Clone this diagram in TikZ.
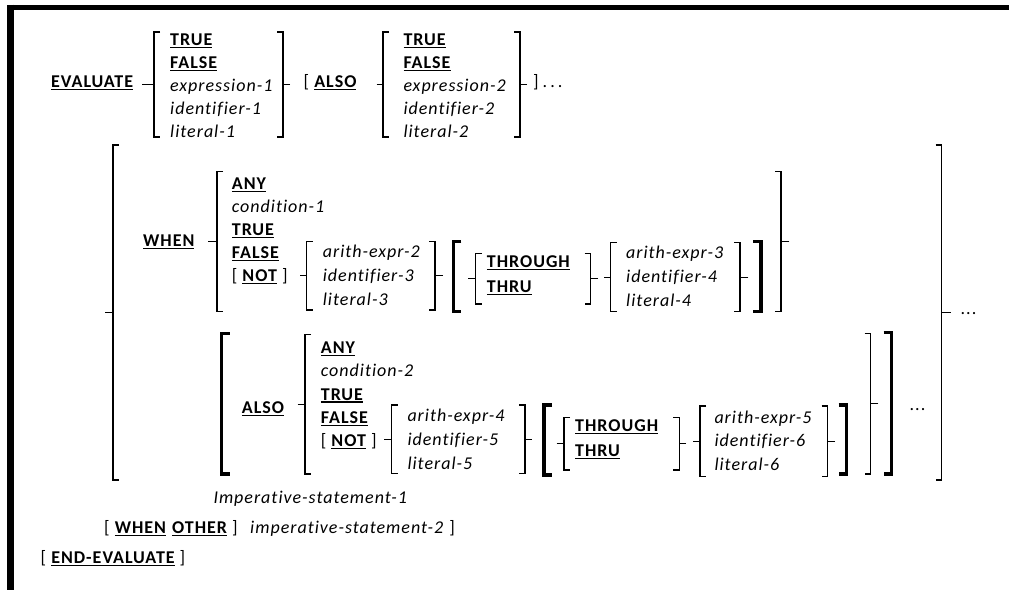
\documentclass[tikz,border=0pt]{standalone}
\usepackage{fontspec}
\setmainfont{Carlito}[LetterSpace=5.5, Ligatures={NoCommon}]

% keyword: bold and underlined, variable: italic
\newcommand\kw[1]{\setbox0=\hbox{\bfseries #1}\rlap{\rule[-2.6pt]{\wd0}{1.3pt}}\box0\relax}
\newcommand\vname[1]{\textit{#1}}
\newcommand\repdots{.\kern1pt.\kern1pt.}
% thin brackets with a tick: x, top, bottom, end of tick
\newcommand\lgrp[4]{\draw[brak] (#1+6,#2) -- (#1,#2) -- (#1,#3) -- (#1+6,#3);
  \draw[brak] (#4,{(#2+#3)/2}) -- (#1,{(#2+#3)/2});}
\newcommand\rgrp[4]{\draw[brak] (#1-6,#2) -- (#1,#2) -- (#1,#3) -- (#1-6,#3);
  \draw[brak] (#4,{(#2+#3)/2}) -- (#1,{(#2+#3)/2});}
% thick brackets of an optional part: x, top, bottom
\newcommand\lopt[3]{\draw[optbrak] (#1+8,#2) -- (#1,#2) -- (#1,#3) -- (#1+8,#3);}
\newcommand\ropt[3]{\draw[optbrak] (#1-8,#2) -- (#1,#2) -- (#1,#3) -- (#1-8,#3);}

\begin{document}
\begin{tikzpicture}[x=1pt, y=-1pt, font=\fontsize{18}{22}\selectfont,
  txt/.style={anchor=base west, inner sep=0pt},
  brak/.style={line width=1.1pt},
  optbrak/.style={line width=3.2pt}]
\useasboundingbox (0,0) rectangle (1009,590);
% frame
\draw[line width=7pt] (10.5,4.5) -- (10.5,590);
\draw[line width=5pt] (7,7.5) -- (1009,7.5);

% EVALUATE ... [ ALSO ... ] ...
\node[txt] (evaluate) at (51,87.7) {\kw{EVALUATE}};
\lgrp{154}{32}{137}{142}
\foreach \w [count=\i] in {\kw{TRUE},\kw{FALSE},\vname{expression-1},\vname{identifier-1},\vname{literal-1}}
  \node[txt] (subj\i) at (170,{45.7+22.85*(\i-1)}) {\w};
\rgrp{283}{32}{137}{290}
\node[txt] (also) at (303.5,87.7) {[ \kw{ALSO}};
\lgrp{383}{32}{137}{376.7}
\foreach \w [count=\i] in {\kw{TRUE},\kw{FALSE},\vname{expression-2},\vname{identifier-2},\vname{literal-2}}
  \node[txt] (osubj\i) at (403.3,{45.7+22.85*(\i-1)}) {\w};
\rgrp{520}{32}{137}{527}
\node[txt] (more) at (533,87.7) {]\kern4pt.\kern3pt.\kern3pt.};

% outer group of WHEN and ALSO phrases
\lgrp{113}{145}{480}{105}
\rgrp{941.7}{145}{480}{950.7}
\node[txt] (whenmore) at (960.5,314) {\repdots};

% WHEN phrase
\node[txt] (when) at (143,246.7) {\kw{WHEN}};
\lgrp{217}{171.7}{311.7}{208}
\foreach \w [count=\i] in {\kw{ANY},\vname{condition-1},\kw{TRUE},\kw{FALSE},{[ \kw{NOT} ]}}
  \node[txt] (wobj\i) at (231.7,{189.3+23.1*(\i-1)}) {\w};
\lgrp{306.7}{241.7}{310}{300}
\foreach \w [count=\i] in {\vname{arith-expr-2},\vname{identifier-3},\vname{literal-3}}
  \node[txt] (wfrom\i) at (322.7,{257.3+23.85*(\i-1)}) {\w};
\rgrp{435}{241.7}{310}{443}
\lopt{453.3}{241.7}{311.7}
\lgrp{475.7}{253.3}{304}{468}
\node[txt] (wthrough) at (486.7,267.3) {\kw{THROUGH}};
\node[txt] (wthru) at (486.7,292.3) {\kw{THRU}};
\rgrp{590.7}{253.3}{304}{598}
\lgrp{610.7}{242.7}{311.7}{604}
\foreach \w [count=\i] in {\vname{arith-expr-3},\vname{identifier-4},\vname{literal-4}}
  \node[txt] (wto\i) at (626,{258.3+23.85*(\i-1)}) {\w};
\rgrp{740}{242.7}{311.7}{748.3}
\ropt{761}{241.7}{311.7}
\rgrp{781}{171.7}{311.7}{789.3}

% ALSO phrase
\lopt{221.7}{333.3}{474}
\node[txt] (walso) at (241.7,413.3) {\kw{ALSO}};
\lgrp{305}{334.3}{474}{297.7}
\foreach \w [count=\i] in {\kw{ANY},\vname{condition-2},\kw{TRUE},\kw{FALSE},{[ \kw{NOT} ]}}
  \node[txt] (aobj\i) at (320.7,{353.3+23.35*(\i-1)}) {\w};
\lgrp{391.7}{405}{473.3}{384}
\foreach \w [count=\i] in {\vname{arith-expr-4},\vname{identifier-5},\vname{literal-5}}
  \node[txt] (afrom\i) at (407.3,{421.7+23.8*(\i-1)}) {\w};
\rgrp{525}{405}{473.3}{531.7}
\lopt{544}{405}{475}
\lgrp{564}{417.3}{470}{556.7}
\node[txt] (athrough) at (575,431.7) {\kw{THROUGH}};
\node[txt] (athru) at (575,456.7) {\kw{THRU}};
\rgrp{679.3}{417.3}{470}{686}
\lgrp{700}{406}{476.7}{693.3}
\foreach \w [count=\i] in {\vname{arith-expr-5},\vname{identifier-6},\vname{literal-6}}
  \node[txt] (ato\i) at (714.3,{423.3+23.35*(\i-1)}) {\w};
\rgrp{827.7}{406}{476.7}{835}
\ropt{846.7}{405}{474}
\rgrp{870.7}{333.3}{474}{878.3}
\ropt{891.7}{332.7}{474}
\node[txt] (alsomore) at (909.5,410) {\repdots};

% statements and end
\node[txt] (stmt1) at (213.3,503.3) {\vname{Imperative-statement-1}};
\node[txt] (other) at (104,533.3) {[ \kw{WHEN}};
\node[txt] (otherkw) at (172,533.3) {\kw{OTHER} ]};
\node[txt] (stmt2) at (250,533.3) {\vname{imperative-statement-2} ]};
\node[txt] (endeval) at (40.5,563.3) {[ \kw{END-EVALUATE} ]};
\end{tikzpicture}
\end{document}
